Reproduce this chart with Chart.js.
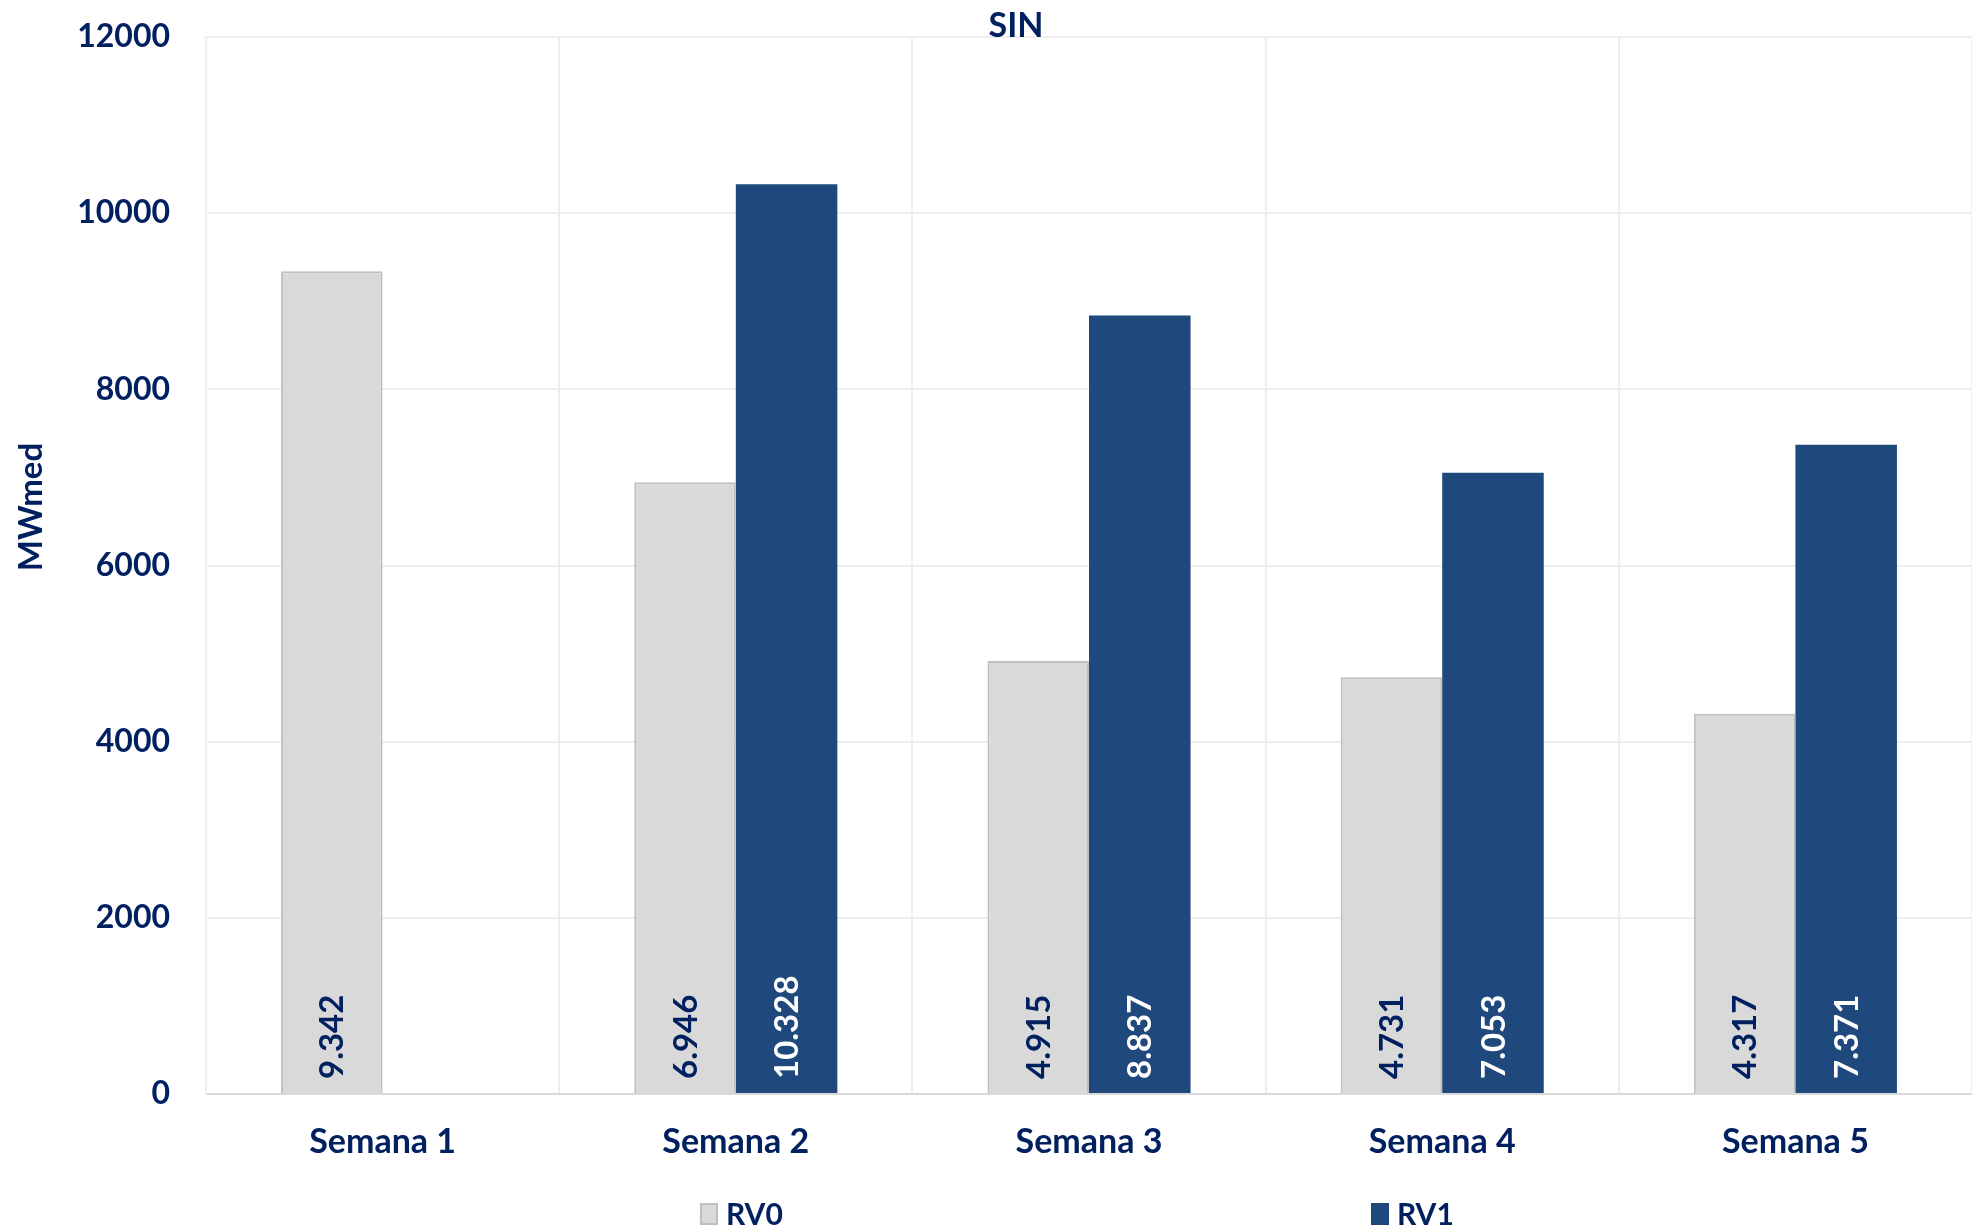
<!DOCTYPE html>
<html lang="pt-BR">
<head>
  <meta charset="UTF-8">
  <title>SIN</title>
  <style>
    body {
      margin: 0;
      background-color: #ffffff;
    }
    canvas {
      display: block;
    }
  </style>
  <script src="https://cdn.jsdelivr.net/npm/chart.js"></script>
</head>
<body>

<canvas id="sinChart" width="1972" height="1229"></canvas>

<script>
// dados (MWmed)
const semanas = ["Semana 1", "Semana 2", "Semana 3", "Semana 4", "Semana 5"];
const rv0 = [9342, 6946, 4915, 4731, 4317];
const rv1 = [null, 10328, 8837, 7053, 7371];
const yMin = 0;
const yMax = 12000;
const yStep = 2000;

const NAVY = '#002060';
const FONT = 'Lato';

function formatBR(v) {
  return String(v).replace(/\B(?=(\d{3})+(?!\d))/g, '.');
}

// rótulos verticais dentro das barras, junto à base
const valueLabels = {
  id: 'valueLabels',
  afterDatasetsDraw(chart) {
    const ctx = chart.ctx;
    const colors = [NAVY, '#ffffff'];
    chart.data.datasets.forEach((ds, i) => {
      const meta = chart.getDatasetMeta(i);
      meta.data.forEach((bar, j) => {
        const v = ds.data[j];
        if (v === null || v === undefined) return;
        ctx.save();
        ctx.translate(bar.x + 1, bar.base - 14);
        ctx.rotate(-Math.PI / 2);
        ctx.font = `bold 33px ${FONT}`;
        ctx.fillStyle = colors[i];
        ctx.textAlign = 'left';
        ctx.textBaseline = 'middle';
        ctx.fillText(formatBR(v), 0, 0);
        ctx.restore();
      });
    });
  }
};

// título "SIN", título do eixo y e legenda espaçada embaixo
const extras = {
  id: 'extras',
  afterDraw(chart) {
    const ctx = chart.ctx;
    ctx.save();
    ctx.font = `bold 34px ${FONT}`;
    ctx.fillStyle = NAVY;
    ctx.textAlign = 'center';
    ctx.textBaseline = 'middle';
    ctx.fillText('SIN', 1016, 26);

    ctx.save();
    ctx.translate(31, 507);
    ctx.rotate(-Math.PI / 2);
    ctx.font = `bold 33px ${FONT}`;
    ctx.fillText('MWmed', 0, 0);
    ctx.restore();

    const legendX = [700, 1371];
    const legendY = 1214;
    ctx.font = `bold 30px ${FONT}`;
    ctx.textAlign = 'left';
    chart.data.datasets.forEach((ds, i) => {
      const x = legendX[i];
      ctx.fillStyle = ds.backgroundColor;
      ctx.fillRect(x, legendY - 11, 18, 22);
      if (ds.borderWidth) {
        ctx.strokeStyle = ds.borderColor;
        ctx.lineWidth = 2;
        ctx.strokeRect(x + 1, legendY - 10, 16, 20);
      }
      ctx.fillStyle = NAVY;
      ctx.fillText(ds.label, x + 26, legendY + 1);
    });
    ctx.restore();
  }
};

new Chart(document.getElementById('sinChart'), {
  type: 'bar',
  data: {
    labels: semanas,
    datasets: [
      {
        label: 'RV0',
        data: rv0,
        backgroundColor: '#d9d9d9',
        borderColor: '#bfbfbf',
        borderWidth: 2,
        categoryPercentage: 0.575,
        barPercentage: 1
      },
      {
        label: 'RV1',
        data: rv1,
        backgroundColor: '#1f497d',
        borderColor: '#1f497d',
        borderWidth: 0,
        categoryPercentage: 0.575,
        barPercentage: 1
      }
    ]
  },
  options: {
    responsive: false,
    animation: false,
    layout: {
      padding: { top: 37, left: 0, right: 0, bottom: 51 }
    },
    plugins: {
      legend: { display: false },
      tooltip: { enabled: false }
    },
    scales: {
      x: {
        grid: { color: '#eeeeee', lineWidth: 2, drawTicks: false, offset: true },
        border: { color: '#d9d9d9', width: 2 },
        ticks: {
          color: NAVY,
          font: { family: FONT, size: 34, weight: 'bold' },
          padding: 28
        },
        afterFit(scale) { scale.height = 84; }
      },
      y: {
        min: yMin,
        max: yMax,
        grid: {
          color: '#eeeeee',
          lineWidth: 2,
          drawTicks: true,
          tickLength: 36,
          tickColor: 'rgba(0,0,0,0)'
        },
        border: { color: '#eeeeee', width: 2 },
        ticks: {
          stepSize: yStep,
          color: NAVY,
          font: { family: FONT, size: 32, weight: 'bold' },
          padding: 0,
          callback: v => String(v)
        },
        afterFit(scale) { scale.width = 206; }
      }
    }
  },
  plugins: [valueLabels, extras]
});
</script>

</body>
</html>
